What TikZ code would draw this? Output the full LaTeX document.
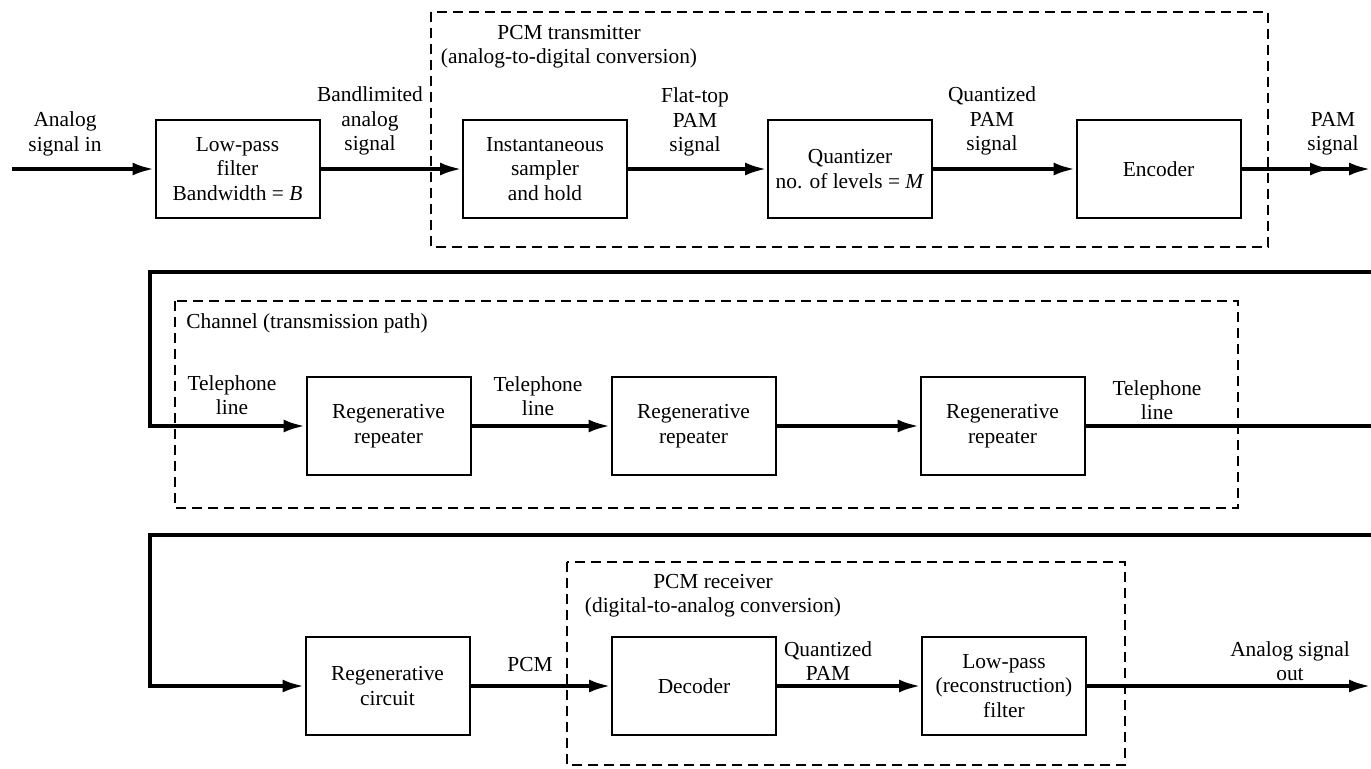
\documentclass[tikz,border=0pt]{standalone}
\usepackage{fontspec}
\setmainfont{Liberation Serif}
\usetikzlibrary{arrows.meta}

\tikzset{
  block/.style={draw, line width=1pt, minimum width=82pt, minimum height=49pt, align=center, inner sep=2pt},
  lbl/.style={align=center, inner sep=0pt},
  sig/.style={line width=2pt},
  sigarr/.style={sig, -{Latex[length=11pt, width=6.5pt]}},
  grp/.style={line width=1pt, dash pattern=on 5pt off 3pt}
}

\begin{document}
\begin{tikzpicture}[x=0.5pt, y=-0.5pt, font=\fontsize{10.7pt}{12.2pt}\selectfont]
  \useasboundingbox[fill=white] (0,0) rectangle (1371,768);

  % transmitter
  \draw[grp] (431,12) rectangle (1268,247);
  \node[lbl] (txname) at (569,47) {PCM transmitter\\(analog-to-digital conversion)};

  \node[block] (lpf)   at (237.5,169) {Low-pass\\filter\\Bandwidth = \textit{B}};
  \node[block] (samp)  at (545,169)   {Instantaneous\\sampler\\and hold};
  \node[block] (quant) at (850,169)   {Quantizer\\no. of levels = \textit{M}};
  \node[block] (enc)   at (1158.5,169) {Encoder};

  \coordinate (in1)  at (12,169);
  \coordinate (mid1) at (1332,169);
  \coordinate (out1) at (1371,169);

  \draw[sigarr] (in1) -- (lpf);
  \draw[sigarr] (lpf) -- (samp);
  \draw[sigarr] (samp) -- (quant);
  \draw[sigarr] (quant) -- (enc);
  \draw[sigarr] (enc) -- (out1);
  \draw[sigarr] (enc) -- (mid1);

  \node[lbl] (l1) at (65,134)   {Analog\\signal in};
  \node[lbl] (l2) at (370,121)  {Bandlimited\\analog\\signal};
  \node[lbl] (l3) at (695,122)  {Flat-top\\PAM\\signal};
  \node[lbl] (l4) at (992,121)  {Quantized\\PAM\\signal};
  \node[lbl] (l5) at (1333,134) {PAM\\signal};

  % channel
  \draw[grp] (175,301) rectangle (1238,508);
  \node[lbl, anchor=west] (chname) at (186,323) {Channel (transmission path)};

  \node[block] (rep1) at (388.5,426)  {Regenerative\\repeater};
  \node[block] (rep2) at (693.5,426)  {Regenerative\\repeater};
  \node[block] (rep3) at (1002.5,426) {Regenerative\\repeater};

  \coordinate (in2)   at (1371,272);
  \coordinate (bend2) at (150,272);
  \coordinate (out2)  at (1371,426);

  \draw[sigarr] (in2) -- (bend2) |- (rep1.west);
  \draw[sigarr] (rep1) -- (rep2);
  \draw[sigarr] (rep2) -- (rep3);
  \draw[sig] (rep3) -- (out2);

  \node[lbl] (t1) at (232,395)  {Telephone\\line};
  \node[lbl] (t2) at (538,396)  {Telephone\\line};
  \node[lbl] (t3) at (1157,400) {Telephone\\line};

  % receiver
  \draw[grp] (567,562) rectangle (1125,765);
  \node[lbl] (rxname) at (713,596) {PCM receiver\\(digital-to-analog conversion)};

  \node[block] (regen) at (387.5,686) {Regenerative\\circuit};
  \node[block] (dec)   at (694,686)   {Decoder};
  \node[block] (lpr)   at (1004,686)  {Low-pass\\(reconstruction)\\filter};

  \coordinate (in3)   at (1371,535);
  \coordinate (bend3) at (150,535);
  \coordinate (out3)  at (1371,686);

  \draw[sigarr] (in3) -- (bend3) |- (regen.west);
  \draw[sigarr] (regen) -- (dec);
  \draw[sigarr] (dec) -- (lpr);
  \draw[sigarr] (lpr) -- (out3);

  \node[lbl] (p1) at (530,665)  {PCM};
  \node[lbl] (p2) at (828,661)  {Quantized\\PAM};
  \node[lbl] (p3) at (1290,661) {Analog signal\\out};
\end{tikzpicture}
\end{document}
